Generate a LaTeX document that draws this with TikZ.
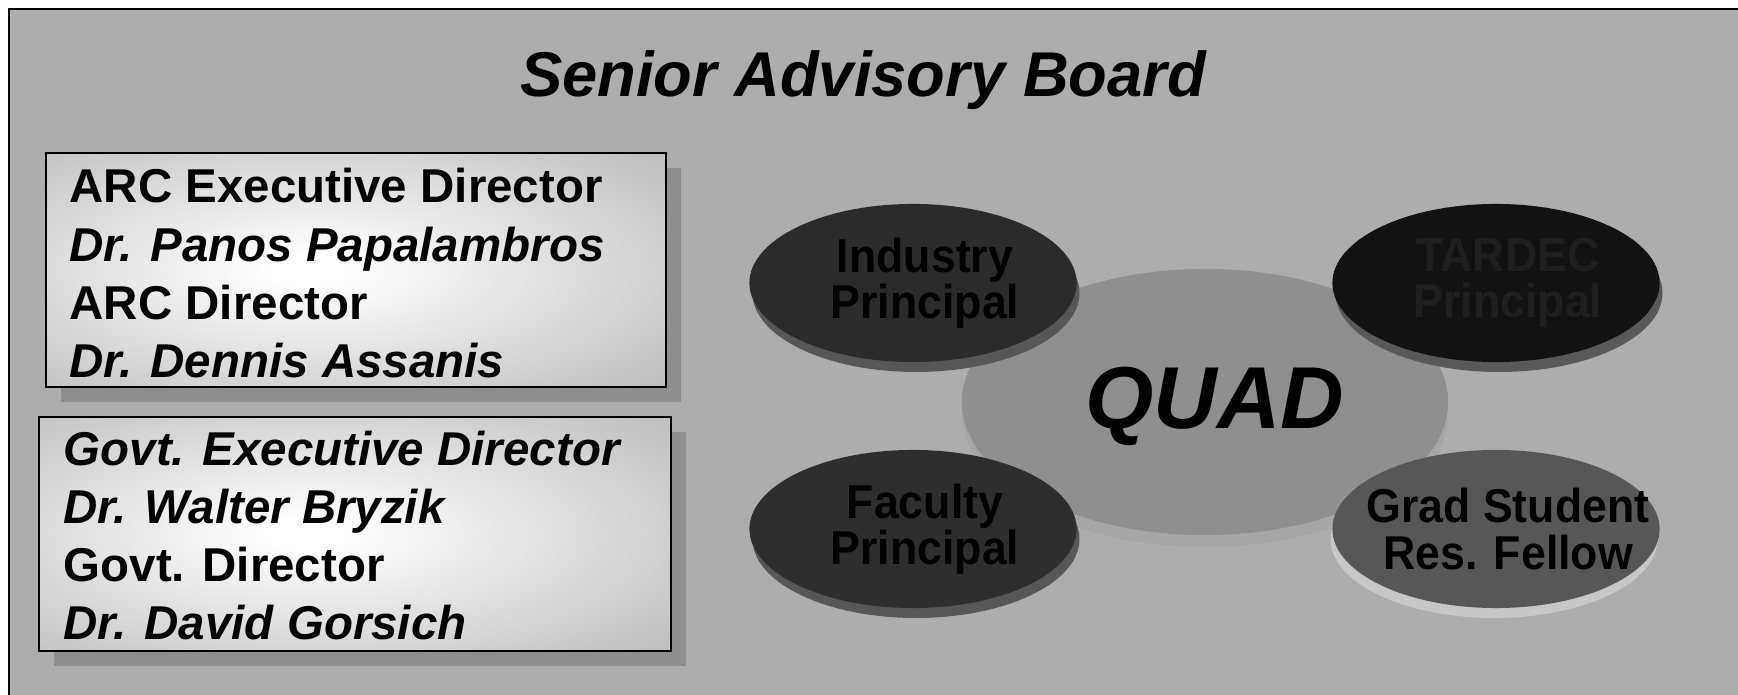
\documentclass[tikz,border=0pt]{standalone}
\usepackage{fontspec}
\setmainfont{Liberation Sans}
\newfontfamily\narrowsans{Liberation Sans}[FakeStretch=0.94]
\usepackage{xcolor}
\usetikzlibrary{shapes.geometric}
\definecolor{boardgray}{HTML}{ADADAD}
\definecolor{boxedge}{HTML}{C0C0C0}
\definecolor{boxshadow}{HTML}{8E8E8E}
\definecolor{quadgray}{HTML}{8F8F8F}
\definecolor{quadshadow}{HTML}{A6A6A6}
\pgfdeclareradialshading{boxglow}{\pgfpoint{-4bp}{0bp}}{color(0bp)=(white); color(3bp)=(white); color(36bp)=(boxedge); color(100bp)=(boxedge)}

\begin{document}
\begin{tikzpicture}[x=0.01cm,y=-0.01cm,
    roletext/.style={anchor=base west,inner sep=0pt,font=\fontsize{13.5}{16}\selectfont\bfseries},
    bubble/.style={ellipse,minimum width=3.27cm,minimum height=1.58cm,inner sep=0pt},
    bubbletext/.style={align=center,inner sep=0pt,xshift=0.12cm,
      font=\narrowsans\fontsize{13.5}{13.2}\selectfont\bfseries}]
  \clip (0,0) rectangle (1738,695);
  \draw[fill=boardgray,line width=0.6pt] (9,9) rectangle (1760,720);
  \node[anchor=base,inner sep=0pt,font=\fontsize{18}{22}\selectfont\bfseries\itshape] (title) at (863,97) {Senior Advisory Board};

  \fill[boxshadow] (61,168) rectangle (681,402);
  \draw[line width=0.5pt,shade,shading=boxglow] (46,153) rectangle (666,387);
  \node[roletext] (arcexec) at (69,203) {ARC Executive Director};
  \node[roletext] (arcexecname) at (69,262) {\itshape Dr. Panos Papalambros};
  \node[roletext] (arcdir) at (69,320) {ARC Director};
  \node[roletext] (arcdirname) at (69,378) {\itshape Dr. Dennis Assanis};

  \fill[boxshadow] (54,432) rectangle (686,666);
  \draw[line width=0.5pt,shade,shading=boxglow] (39,417) rectangle (671,651);
  \node[roletext] (govexec) at (63,466) {\itshape Govt. Executive Director};
  \node[roletext] (govexecname) at (63,524) {\itshape Dr. Walter Bryzik};
  \node[roletext] (govdir) at (63,582) {Govt. Director};
  \node[roletext] (govdirname) at (63,640) {\itshape Dr. David Gorsich};

  \fill[quadshadow] (1205,414) ellipse (243 and 133);
  \node[ellipse,fill=quadgray,minimum width=4.86cm,minimum height=2.66cm,inner sep=0pt] (quad) at (1205,402) {};
  \node[anchor=base,inner sep=0pt,font=\fontsize{25}{30}\selectfont\bfseries\itshape] (quadlabel) at (1215,429) {QUAD};

  \fill[black!66] (916,293) ellipse (163.5 and 79);
  \node[bubble,fill=black!83] (industry) at (913,283) {};
  \node[bubbletext] (industrylabel) at (industry) {Industry\\Principal};
  \fill[black!65] (1499,293) ellipse (163.5 and 79);
  \node[bubble,fill=black!93] (tardec) at (1496,283) {};
  \node[bubbletext,text=black!88] (tardeclabel) at (tardec) {TARDEC\\Principal};
  \fill[black!66] (916,539) ellipse (163.5 and 79);
  \node[bubble,fill=black!82] (faculty) at (913,529) {};
  \node[bubbletext] (facultylabel) at (faculty) {Faculty\\Principal};
  \fill[black!22] (1494,539) ellipse (163.5 and 79);
  \node[bubble,fill=black!66] (grad) at (1496,529) {};
  \node[bubbletext] (gradlabel) at (grad) {Grad Student\\Res. Fellow};
\end{tikzpicture}
\end{document}
